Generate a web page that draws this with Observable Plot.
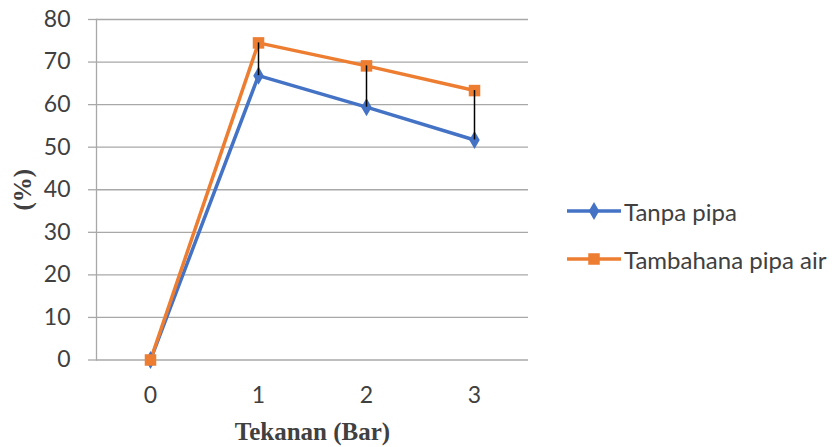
<!DOCTYPE html>
<html>
<head>
<meta charset="utf-8">
<script src="https://cdn.jsdelivr.net/npm/d3@7"></script>
<script src="https://cdn.jsdelivr.net/npm/@observablehq/plot@0.6"></script>
<style>
  body { margin: 0; background: #fff; }
  #wrap { position: relative; width: 836px; height: 447px; }
  #wrap svg.plot text { fill: #404040; }
  #wrap [aria-label="x-axis label"] text,
  #wrap [aria-label="y-axis label"] text {
    font-family: "Liberation Serif", "Times New Roman", serif;
    font-weight: bold;
    font-size: 25px;
    fill: #000;
  }
  .legend { position: absolute; left: 567px; top: 0; font-family: Lato, sans-serif; font-size: 24px; color: #404040; }
  .legend .row { position: absolute; left: 0; display: flex; align-items: center; white-space: nowrap; }
  .legend svg { display: block; margin-right: 3px; }
</style>
</head>
<body>
<div id="wrap"></div>
<script>
// Tekanan (bar) categories and the two measured series (%)
const tekanan = ["0", "1", "2", "3"];
const tanpaPipa = [0, 66.8, 59.4, 51.7];
const tambahanPipaAir = [0, 74.5, 69.1, 63.3];
const yTicks = [0, 10, 20, 30, 40, 50, 60, 70, 80];
const seriesNames = ["Tanpa pipa", "Tambahana pipa air"];
const seriesColors = ["#4472C4", "#ED7D31"];
const seriesSymbols = ["diamond", "square"];

const rowsA = tekanan.map((t, i) => ({x: t, y: tanpaPipa[i]}));
const rowsB = tekanan.map((t, i) => ({x: t, y: tambahanPipaAir[i]}));
const spans = tekanan
  .map((t, i) => ({x: t, lo: tanpaPipa[i], hi: tambahanPipaAir[i]}))
  .filter(d => d.hi !== d.lo);

const chart = Plot.plot({
  width: 836,
  height: 447,
  marginLeft: 96,
  marginRight: 308,
  marginTop: 19,
  marginBottom: 87.5,
  style: {fontFamily: "Lato, sans-serif", background: "#fff"},
  x: {type: "point", domain: tekanan, padding: 0.5},
  y: {domain: [0, 80]},
  marks: [
    Plot.gridY(yTicks, {stroke: "#a8a8a8", strokeOpacity: 1, strokeWidth: 1.3}),
    Plot.frame({anchor: "left", stroke: "#a8a8a8", strokeWidth: 1.3}),
    Plot.axisY(yTicks, {
      tickSize: 8, tickPadding: 18, fontSize: 23,
      stroke: "#a8a8a8", strokeWidth: 1.3,
      label: "(%)", labelAnchor: "center", labelArrow: "none", labelOffset: 83
    }),
    Plot.axisX({
      tickSize: 0, tickPadding: 27, fontSize: 23,
      label: "Tekanan (Bar)", labelArrow: "none", labelAnchor: "center", labelOffset: 80
    }),
    Plot.line(rowsA, {x: "x", y: "y", stroke: seriesColors[0], strokeWidth: 3.5}),
    Plot.line(rowsB, {x: "x", y: "y", stroke: seriesColors[1], strokeWidth: 3.5}),
    Plot.dot(rowsA, {x: "x", y: "y", symbol: seriesSymbols[0], fill: seriesColors[0], r: 5.5}),
    Plot.dot(rowsB, {x: "x", y: "y", symbol: seriesSymbols[1], fill: seriesColors[1], r: 6.5}),
    Plot.ruleX(spans, {x: "x", y1: "lo", y2: "hi", stroke: "#000", strokeWidth: 1.5})
  ]
});
chart.classList.add("plot");

const wrap = document.getElementById("wrap");
wrap.appendChild(chart);

// Legend on the right-hand side
const legend = document.createElement("div");
legend.className = "legend";
const rowTops = [211, 259];
seriesNames.forEach((name, i) => {
  const row = document.createElement("div");
  row.className = "row";
  row.style.top = (rowTops[i] - 15) + "px";
  row.style.height = "30px";
  const sym = d3.create("svg").attr("width", 54).attr("height", 30);
  sym.append("line").attr("x1", 0).attr("x2", 54).attr("y1", 15).attr("y2", 15)
    .attr("stroke", seriesColors[i]).attr("stroke-width", 3.5);
  const symType = i === 0 ? d3.symbolDiamond : d3.symbolSquare;
  const size = i === 0 ? Math.PI * 5.5 * 5.5 : Math.PI * 6.5 * 6.5;
  sym.append("path").attr("transform", "translate(27,15)")
    .attr("d", d3.symbol(symType, size)()).attr("fill", seriesColors[i]);
  row.appendChild(sym.node());
  const label = document.createElement("span");
  label.textContent = name;
  row.appendChild(label);
  legend.appendChild(row);
});
wrap.appendChild(legend);
</script>
</body>
</html>
